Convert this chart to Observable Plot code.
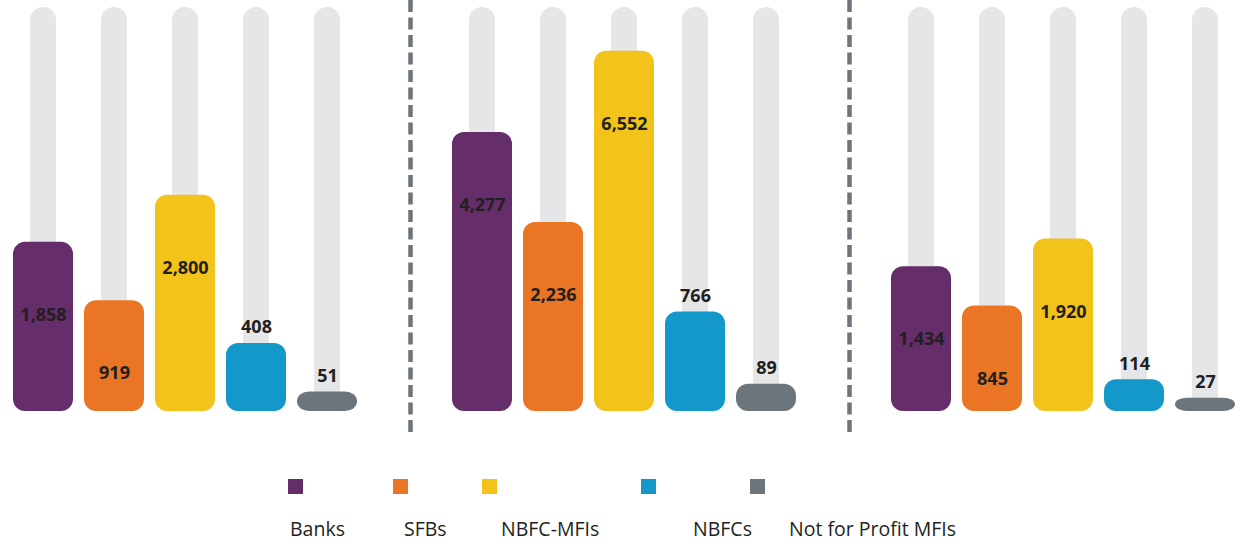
<!DOCTYPE html>
<html>
<head>
<meta charset="utf-8">
<script src="https://cdn.jsdelivr.net/npm/d3@7"></script>
<script src="https://cdn.jsdelivr.net/npm/@observablehq/plot@0.6"></script>
<style>
  html, body { margin: 0; padding: 0; background: #ffffff; }
  #wrap { position: relative; width: 1242px; height: 546px; overflow: hidden; }
  #legend { position: absolute; left: 0; top: 440px; width: 1242px; height: 106px; }
  .sw { position: absolute; top: 39px; width: 15px; height: 15px; }
  .lb { position: absolute; top: 79px; font-family: "Open Sans", sans-serif; font-size: 19.5px; line-height: 1; color: #231f20; white-space: nowrap; }
</style>
</head>
<body>
<div id="wrap"><div id="chart"></div><div id="legend"></div></div>
<script>
// ---- data ----
const categories = ["Banks", "SFBs", "NBFC-MFIs", "NBFCs", "Not for Profit MFIs"];
const panels = ["Panel 1", "Panel 2", "Panel 3"];
const panel1Values = [1858, 919, 2800, 408, 51];
const panel2Values = [4277, 2236, 6552, 766, 89];
const panel3Values = [1434, 845, 1920, 114, 27];
const colors = ["#652d6a", "#e97525", "#f2c41b", "#1497c9", "#6c757c"];
const labelsInside = ["Banks", "SFBs", "NBFC-MFIs"];

// ---- chart config ----
const trackMax = 7930;
const trackColor = "#e5e6e8";
const fmt = d3.format(",");

const rows = [];
[panel1Values, panel2Values, panel3Values].forEach((vals, pi) => {
  vals.forEach((v, ci) => rows.push({panel: panels[pi], category: categories[ci], value: v}));
});
const separators = panels.slice(1).map(p => ({panel: p, category: categories[0]}));

const chart = Plot.plot({
  width: 1242,
  height: 440,
  marginTop: 7,
  marginBottom: 29,
  marginLeft: 6,
  marginRight: 0,
  style: {fontFamily: "'Open Sans', sans-serif", background: "transparent"},
  fx: {domain: panels, paddingInner: 0.1861, paddingOuter: 0, axis: null, label: null},
  x: {domain: categories, paddingInner: 0.16, paddingOuter: 0.08, axis: null, label: null},
  y: {type: "pow", exponent: 0.6, domain: [0, trackMax], axis: null},
  color: {domain: categories, range: colors},
  marks: [
    Plot.ruleX(separators, {
      fx: "panel", x: "category", dx: -72,
      stroke: "#6d747a", strokeWidth: 4.5, strokeDasharray: "12,5.5",
      insetTop: -7, insetBottom: -24
    }),
    Plot.barY(rows, {
      fx: "panel", x: "category", y1: 0, y2: () => trackMax,
      fill: trackColor, insetLeft: 17, insetRight: 17, rx: 13
    }),
    Plot.barY(rows, {
      fx: "panel", x: "category", y1: 0, y2: "value",
      fill: "category", rx: 12
    }),
    Plot.text(rows.filter(d => labelsInside.includes(d.category)), {
      fx: "panel", x: "category", y: "value", dy: 73,
      text: d => fmt(d.value), fontSize: 18, fontWeight: "bold", fill: "#231f20",
      fontFamily: "'Open Sans', sans-serif"
    }),
    Plot.text(rows.filter(d => !labelsInside.includes(d.category)), {
      fx: "panel", x: "category", y: "value", dy: -16,
      text: d => fmt(d.value), fontSize: 18, fontWeight: "bold", fill: "#231f20",
      fontFamily: "'Open Sans', sans-serif"
    })
  ]
});
document.getElementById("chart").appendChild(chart);

// ---- legend ----
const swatchLeft = [288, 393, 482, 641, 750];
const labelLeft = [290, 404, 501, 693, 789];
const legend = document.getElementById("legend");
categories.forEach((c, i) => {
  const s = document.createElement("div");
  s.className = "sw";
  s.style.left = swatchLeft[i] + "px";
  s.style.background = colors[i];
  legend.appendChild(s);
  const l = document.createElement("div");
  l.className = "lb";
  l.style.left = labelLeft[i] + "px";
  l.textContent = c;
  legend.appendChild(l);
});
</script>
</body>
</html>
